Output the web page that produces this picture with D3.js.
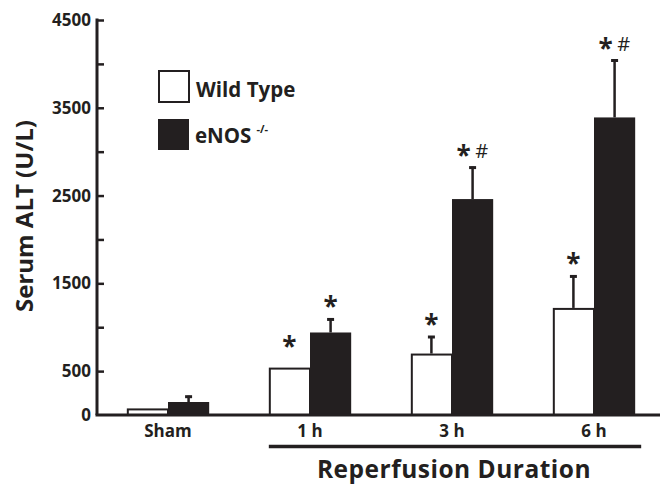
<!DOCTYPE html>
<html><head><meta charset="utf-8">
<script src="https://cdn.jsdelivr.net/npm/d3@7"></script>
<style>
body{margin:0;background:#fff;}
text{font-family:"Open Sans","Noto Sans",sans-serif;font-weight:700;fill:#231f20;}
</style></head>
<body><svg id="c" width="660" height="484"></svg>
<script>
const categories = ["Sham", "1 h", "3 h", "6 h"];
const series = ["Wild Type", "eNOS"];
const wildType = [75, 540, 700, 1220];
const wildTypeErr = [0, 0, 200, 370];
const enos = [148, 940, 2460, 3390];
const enosErr = [72, 160, 370, 660];
const wildTypeMarks = ["", "*", "*", "*"];
const enosMarks = ["", "*", "*#", "*#"];
const yTicks = [500, 1000, 1500, 2000, 2500, 3000, 3500, 4000, 4500];
const yTickLabels = [0, 500, 1500, 2500, 3500, 4500];

const ink = "#231f20";
const svg = d3.select("#c");
const y = d3.scaleLinear().domain([0, 4500]).range([415, 20]);
const x = d3.scaleBand().domain(categories).range([97, 665]).paddingInner(0.42).paddingOuter(0.21);
const xs = d3.scaleBand().domain(series).range([0, x.bandwidth()]);

const data = [];
categories.forEach((c, i) => {
  data.push({c, s: series[0], v: wildType[i], e: wildTypeErr[i], m: wildTypeMarks[i]});
  data.push({c, s: series[1], v: enos[i], e: enosErr[i], m: enosMarks[i]});
});

// bars
data.forEach(d => {
  const bx = x(d.c) + xs(d.s);
  if (d.s === series[0]) {
    svg.append("rect").attr("x", bx + 1).attr("y", y(d.v) + 1)
      .attr("width", xs.bandwidth() - 1).attr("height", y(0) - y(d.v) - 1)
      .attr("fill", "#fff").attr("stroke", ink).attr("stroke-width", 2);
  } else {
    svg.append("rect").attr("x", bx).attr("y", y(d.v))
      .attr("width", xs.bandwidth()).attr("height", y(0) - y(d.v))
      .attr("fill", ink);
  }
  const cx = bx + xs.bandwidth() / 2;
  if (d.e > 0) {
    svg.append("line").attr("x1", cx).attr("x2", cx).attr("y1", y(d.v)).attr("y2", y(d.v + d.e))
      .attr("stroke", ink).attr("stroke-width", 2.5);
    svg.append("line").attr("x1", cx - 3.5).attr("x2", cx + 3.5).attr("y1", y(d.v + d.e) + 1).attr("y2", y(d.v + d.e) + 1)
      .attr("stroke", ink).attr("stroke-width", 3);
  }
  if (d.m) {
    const top = d.e > 0 ? y(d.v + d.e) - 15 : y(d.v) - 25; // center of mark
    const t = svg.append("text").attr("y", top + 13).attr("text-anchor", "middle");
    if (d.m === "*") {
      t.attr("x", cx).attr("font-size", 26).text("*");
    } else {
      t.attr("x", cx);
      t.append("tspan").attr("x", cx - 9).attr("font-size", 26).text("*");
      t.append("tspan").attr("x", cx + 9).attr("dy", -7).attr("font-size", 20).attr("font-weight", 400).text("#");
    }
  }
});

// y axis
const yAxis = d3.axisLeft(y).tickValues(yTicks.concat([0])).tickSizeInner(-7).tickSizeOuter(0).tickPadding(6)
  .tickFormat(v => yTickLabels.includes(v) ? v : "");
const ga = svg.append("g").attr("transform", "translate(97,0)").call(yAxis);
ga.select(".domain").attr("stroke", ink).attr("stroke-width", 3).attr("d", `M0,${y(4500)-1.5}V${y(0)}`);
ga.selectAll(".tick line").attr("stroke", ink).attr("stroke-width", 2.5);
ga.selectAll(".tick").filter(v => v === 0).select("line").remove();
ga.selectAll(".tick text").attr("font-size", 17).attr("fill", ink)
  .attr("font-family", '"Open Sans",sans-serif').attr("font-weight", 700);

// x baseline
svg.append("line").attr("x1", 95.5).attr("x2", 660).attr("y1", y(0)).attr("y2", y(0))
  .attr("stroke", ink).attr("stroke-width", 3);

// x labels
svg.selectAll(".xl").data(categories).enter().append("text")
  .attr("x", d => x(d) + x.bandwidth() / 2).attr("y", 437).attr("text-anchor", "middle")
  .attr("font-size", 17).text(d => d);

// reperfusion bracket
const bx0 = x("1 h"), bx1 = x("6 h") + x.bandwidth() + 6;
svg.append("line").attr("x1", bx0).attr("x2", bx1)
  .attr("y1", 446.5).attr("y2", 446.5).attr("stroke", ink).attr("stroke-width", 3.5);
svg.append("text").attr("x", (bx0 + bx1) / 2 - 1).attr("y", 478)
  .attr("text-anchor", "middle").attr("font-size", 24.5).attr("letter-spacing", 0.5).text("Reperfusion Duration");

// y label
svg.append("text").attr("transform", "translate(33,216) rotate(-90)").attr("text-anchor", "middle")
  .attr("font-size", 24).text("Serum ALT (U/L)");

// legend
svg.append("rect").attr("x", 159).attr("y", 71).attr("width", 30).attr("height", 31)
  .attr("fill", "#fff").attr("stroke", ink).attr("stroke-width", 2);
svg.append("rect").attr("x", 158).attr("y", 119).attr("width", 31).attr("height", 31).attr("fill", ink);
svg.append("text").attr("x", 196).attr("y", 97).attr("font-size", 20.5).text(series[0]);
const lt = svg.append("text").attr("x", 195).attr("y", 143).attr("font-size", 20.5).text(series[1]);
lt.append("tspan").attr("dx", 5).attr("dy", -10).attr("font-size", 11).text("-/-");
</script></body></html>
